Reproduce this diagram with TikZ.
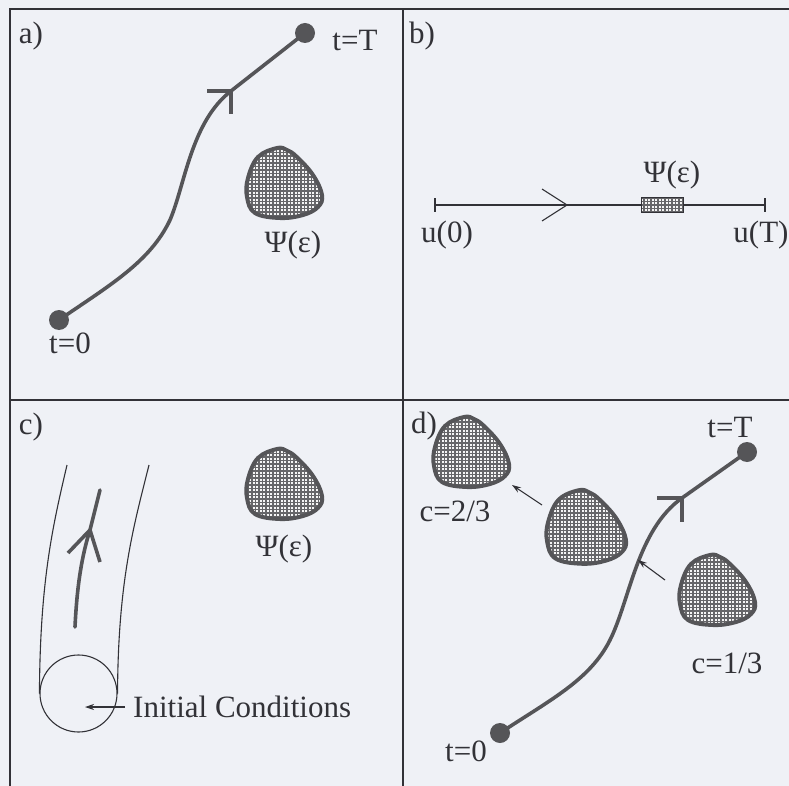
\documentclass[tikz,border=0pt]{standalone}
\usepackage{fontspec}
\setmainfont{Liberation Serif}
\usetikzlibrary{patterns,arrows.meta}
\definecolor{bg}{RGB}{239,241,246}
\definecolor{ink}{RGB}{85,85,88}
\definecolor{txt}{RGB}{50,50,55}
\pgfdeclarepatternformonly{blobgrid}{\pgfqpoint{-1pt}{-1pt}}{\pgfqpoint{4.5pt}{4.5pt}}{\pgfqpoint{3.5pt}{3.5pt}}{%
  \pgfsetlinewidth{1.2pt}%
  \pgfpathmoveto{\pgfqpoint{-0.5pt}{0pt}}\pgfpathlineto{\pgfqpoint{4pt}{0pt}}%
  \pgfpathmoveto{\pgfqpoint{0pt}{-0.5pt}}\pgfpathlineto{\pgfqpoint{0pt}{4pt}}%
  \pgfusepath{stroke}}
\begin{document}
\begin{tikzpicture}[x=1pt,y=-1pt,
  lbl/.style={text=txt,font=\fontsize{31}{36}\selectfont,inner sep=0pt},
  traj/.style={draw=ink,line width=3.6pt,line cap=round,line join=round},
  barb/.style={draw=ink,line width=4pt},
  thinline/.style={draw=txt,line width=1.1pt},
  hatch/.style={pattern=blobgrid,pattern color=ink!90,preaction={fill=gray!8}},
  blobline/.style={draw=ink,line width=4pt,hatch},
  dot/.style={circle,fill=ink,minimum size=20pt,inner sep=0pt},
  blob/.pic={\path[blobline] plot[smooth cycle,tension=0.65] coordinates {(-7,-35) (3,-33) (13,-26) (29,-8) (38,12) (34,24) (19,32) (-4,35) (-29,30) (-37,14) (-36,-5) (-26,-26)};}
]
\fill[bg] (0,0) rectangle (789,786);
\useasboundingbox (0,0) rectangle (789,786);
% frame
\draw[thinline] (10,9) rectangle (800,800);
\draw[thinline] (403,9) -- (403,800);
\draw[thinline] (10,400) -- (800,400);

% ---------- panel a
\node[lbl] (la) at (31,36) {a)};
\node[dot] (a0) at (59,320) {};
\node[dot] (aT) at (305,33) {};
\node[lbl] (la0) at (70,343) {t=0};
\node[lbl] (laT) at (355,41) {t=T};
\coordinate (aarr) at (231,91);
\draw[traj] (a0.center) .. controls (110,285) and (150,262) .. (170,220)
  .. controls (185,185) and (191,122) .. (aarr) -- (aT.center);
\draw[barb] (aarr) -- ++(-24,0);
\draw[barb] (aarr) -- ++(0,23);
\pic (ablob) at (284,183) {blob};
\node[lbl] (apsi) at (293,245) {Ψ(ε)};

% ---------- panel b
\node[lbl] (lb) at (422,36) {b)};
\coordinate (bL) at (435,205);
\coordinate (bR) at (765,205);
\draw[thinline] (bL) -- (bR);
\draw[thinline] ([yshift=-7]bL) -- ([yshift=7]bL);
\draw[thinline] ([yshift=-7]bR) -- ([yshift=7]bR);
\coordinate (barr) at (567,205);
\draw[thinline] ([shift={(-25,-16)}]barr) -- (barr) -- ([shift={(-25,16)}]barr);
\node[draw=txt,line width=1pt,hatch,minimum width=42pt,minimum height=15pt,inner sep=0pt] (bbox) at (662,205.5) {};
\node[lbl] (bpsi) at (672,175) {Ψ(ε)};
\node[lbl] (bu0) at (447,235) {u(0)};
\node[lbl] (buT) at (761,235) {u(T)};

% ---------- panel c
\node[lbl] (lc) at (31,427) {c)};
\node[draw=txt,line width=1.1pt,circle,minimum size=77pt,inner sep=0pt] (ccirc) at (78.5,693.5) {};
\draw[thinline] (67,465) .. controls (53,525) and (40,580) .. (ccirc.west);
\draw[thinline] (149,465) .. controls (134,525) and (118,580) .. (ccirc.east);
\coordinate (cs) at (75,627);
\coordinate (ce) at (100,490);
\coordinate (carr) at (90,530);
\draw[traj] (cs) .. controls (77,585) and (82,555) .. (carr) -- (ce);
\draw[barb,line width=3.6pt] (carr) -- (68,553);
\draw[barb,line width=3.6pt] (carr) -- (100,562);
\pic (cblob) at (284,484) {blob};
\node[lbl] (cpsi) at (284,549) {Ψ(ε)};
\node[lbl,anchor=west] (cic) at (133,707) {Initial Conditions};
\coordinate (cicend) at (85,707);
\draw[thinline,-{Stealth[length=9pt,width=6pt]}] ([xshift=-8]cic.west) -- (cicend);

% ---------- panel d
\node[lbl] (ld) at (424,426) {d)};
\pic (dblob1) at (471,452) {blob};
\pic[scale=1.05] (dblob2) at (586,527) {blob};
\pic (dblob3) at (717,590) {blob};
\node[lbl] (dc23) at (455,511) {c=2/3};
\node[lbl] (dc13) at (727,663) {c=1/3};
\node[dot] (d0) at (500,733) {};
\node[dot] (dT) at (747,452) {};
\node[lbl] (ld0) at (466,751) {t=0};
\node[lbl] (ldT) at (730,427) {t=T};
\coordinate (darr) at (682,498);
\draw[traj] (d0.center) .. controls (550,700) and (590,680) .. (610,640)
  .. controls (630,600) and (637,530) .. (darr) -- (dT.center);
\draw[barb] (darr) -- ++(-25,0);
\draw[barb] (darr) -- ++(0,24);
\coordinate (da1s) at (542,505);
\coordinate (da1e) at (512,485);
\coordinate (da2s) at (665,580);
\coordinate (da2e) at (638,560);
\draw[thinline,-{Stealth[length=9pt,width=6pt]}] (da1s) -- (da1e);
\draw[thinline,-{Stealth[length=9pt,width=6pt]}] (da2s) -- (da2e);
\end{tikzpicture}
\end{document}
